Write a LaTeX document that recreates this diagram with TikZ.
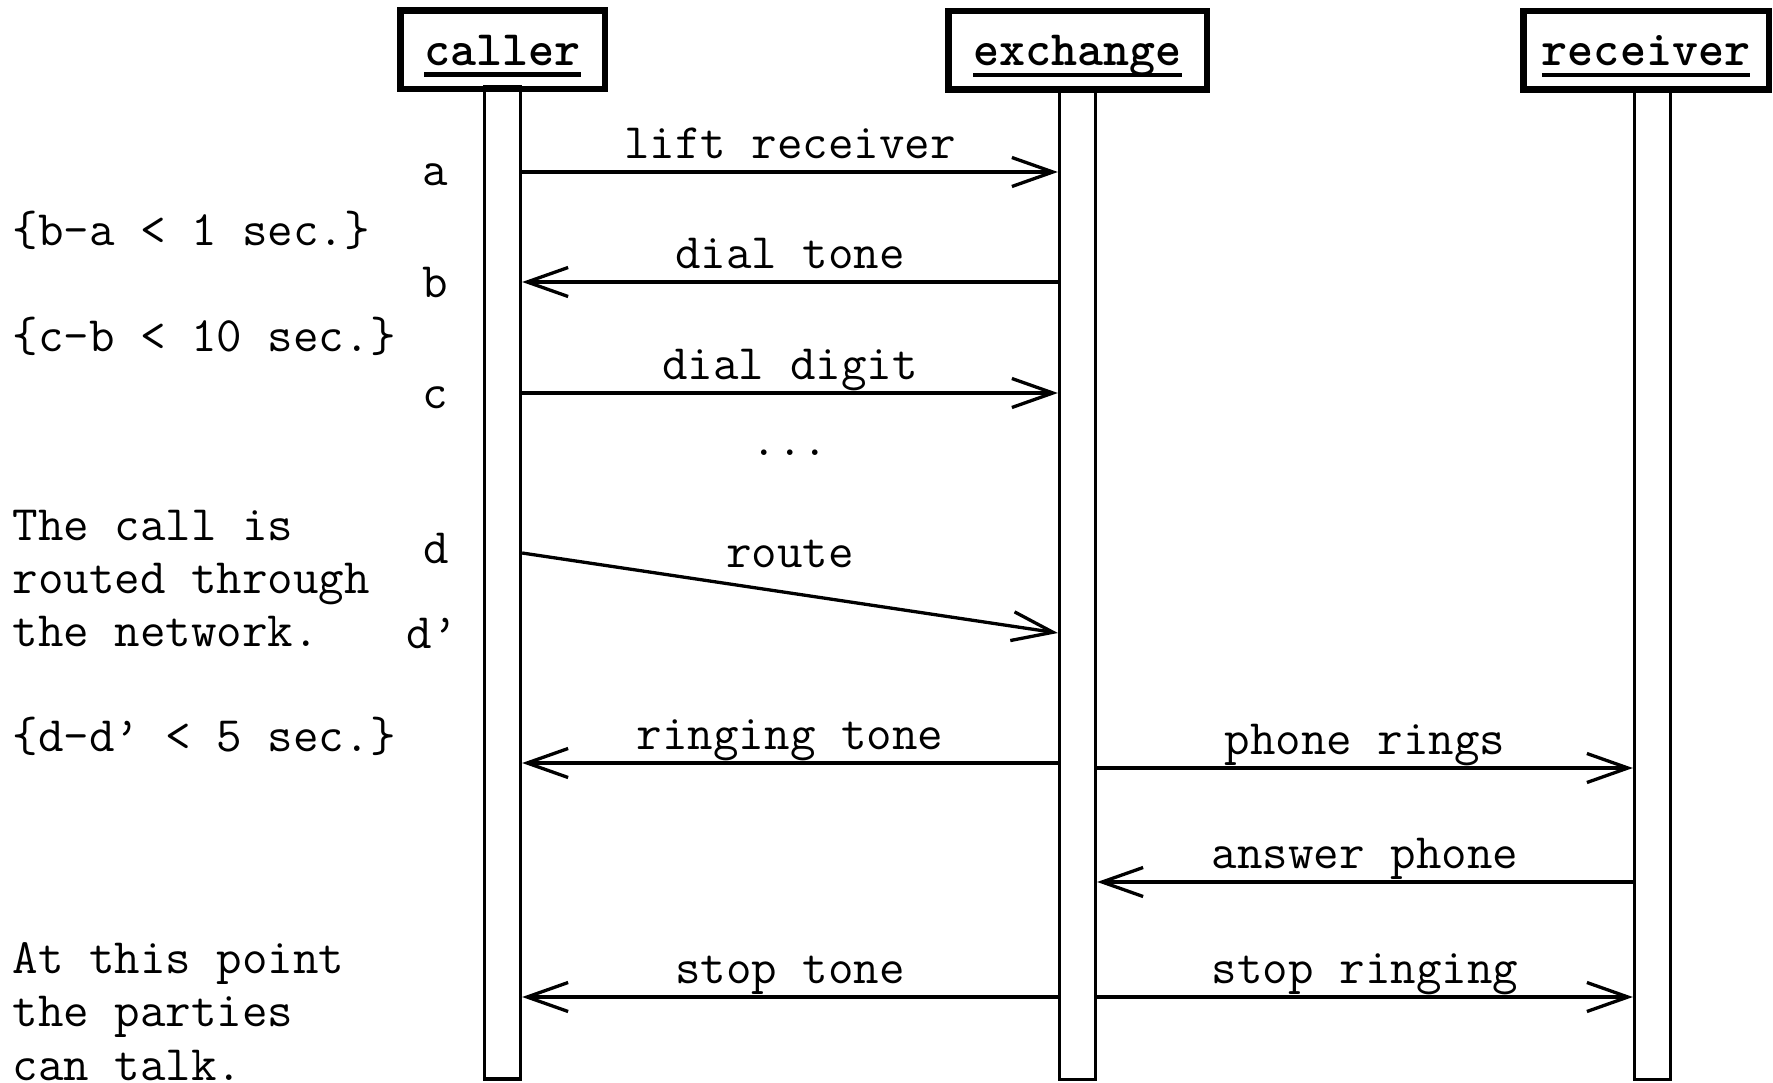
\documentclass[tikz,border=0pt]{standalone}
\usetikzlibrary{arrows.meta, positioning}

% bold header text with a heavy underline
\newcommand{\hdrtext}[1]{\setbox0\hbox{\bfseries #1}\rlap{\rule[-3.2pt]{\wd0}{1.2pt}}\box0}

\begin{document}
\begin{tikzpicture}[every node/.style={font=\ttfamily\fontsize{14.1pt}{15.1pt}\selectfont}]
    \tikzstyle{actor} = [rectangle, draw, line width=1.85pt, minimum height=0.785cm, text height=10.3pt, text depth=1.6pt, inner sep=0pt]
    \tikzstyle{life} = [rectangle, draw, line width=0.94pt, minimum width=0.36cm, minimum height=9.92cm, inner sep=0pt]
    \tikzstyle{msg} = [line width=0.94pt, -{Straight Barb[length=0.41cm, width=0.29cm]}]
    \tikzstyle{lbl} = [midway, anchor=base, yshift=0.135cm]
    \tikzstyle{timelbl} = [anchor=base, inner sep=0pt]
    \tikzstyle{note} = [anchor=base west, align=left, inner sep=0pt]

    \useasboundingbox (0,0) rectangle (17.73,-10.83);

    % objects and lifelines
    \node[actor, minimum width=2.045cm] (caller) at (5.025,-0.50) {\hdrtext{caller}};
    \node[actor, minimum width=2.585cm] (exchange) at (10.775,-0.505) {\hdrtext{exchange}};
    \node[actor, minimum width=2.455cm] (receiver) at (16.46,-0.505) {\hdrtext{receiver}};
    \node[life, below=-2pt of caller] (callerlife) {};
    \node[life, below=-2pt of exchange] (exchangelife) {};
    \node[life, below=-2pt of receiver, xshift=0.065cm] (receiverlife) {};

    % messages
    \draw[msg] (callerlife.east |- 0,-1.72) -- node[lbl]{lift receiver} (exchangelife.west |- 0,-1.72);
    \draw[msg] (exchangelife.west |- 0,-2.82) -- node[lbl]{dial tone} (callerlife.east |- 0,-2.82);
    \draw[msg] (callerlife.east |- 0,-3.93) -- node[lbl]{dial digit} (exchangelife.west |- 0,-3.93);
    \node[timelbl] (dots) at (7.90,-4.55) {...};
    \draw[msg] (callerlife.east |- 0,-5.53) -- node[lbl, yshift=0.12cm]{route} (exchangelife.west |- 0,-6.33);
    \draw[msg] (exchangelife.west |- 0,-7.63) -- node[lbl]{ringing tone} (callerlife.east |- 0,-7.63);
    \draw[msg] (exchangelife.east |- 0,-7.68) -- node[lbl]{phone rings} (receiverlife.west |- 0,-7.68);
    \draw[msg] (receiverlife.west |- 0,-8.82) -- node[lbl]{answer phone} (exchangelife.east |- 0,-8.82);
    \draw[msg] (exchangelife.west |- 0,-9.97) -- node[lbl]{stop tone} (callerlife.east |- 0,-9.97);
    \draw[msg] (exchangelife.east |- 0,-9.97) -- node[lbl]{stop ringing} (receiverlife.west |- 0,-9.97);

    % time marks
    \node[timelbl] (ta) at (4.35,-1.855) {a};
    \node[timelbl] (tb) at (4.35,-2.975) {b};
    \node[timelbl] (tc) at (4.35,-4.085) {c};
    \node[timelbl] (td) at (4.36,-5.635) {d};
    \node[timelbl] (tdd) at (4.32,-6.485) {d’};

    % notes on the left
    \node[note] (gapab) at (0.12,-2.455) {\{b-a < 1 sec.\}};
    \node[note] (gapbc) at (0.12,-3.515) {\{c-b < 10 sec.\}};
    \node[note] (routenote) at (0.12,-6.465) {The call is\\routed through\\the network.};
    \node[note] (gapdd) at (0.12,-7.515) {\{d-d’ < 5 sec.\}};
    \node[note] (talknote) at (0.12,-10.80) {At this point\\the parties\\can talk.};
\end{tikzpicture}
\end{document}
